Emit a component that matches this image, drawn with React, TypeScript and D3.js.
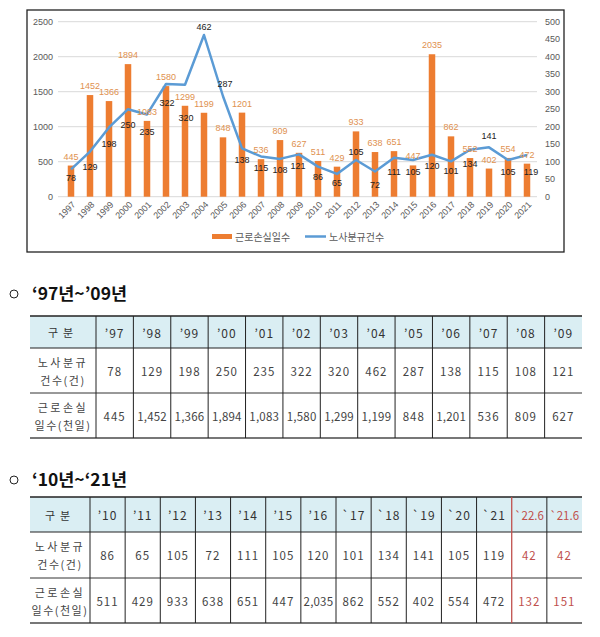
import React from 'react';
import * as d3 from 'd3';

// ---- data ----
const years = ['1997','1998','1999','2000','2001','2002','2003','2004','2005','2006','2007','2008','2009','2010','2011','2012','2013','2014','2015','2016','2017','2018','2019','2020','2021'];
const lostDays = [445,1452,1366,1894,1083,1580,1299,1199,848,1201,536,809,627,511,429,933,638,651,447,2035,862,552,402,554,472];
const disputes = [78,129,198,250,235,322,320,462,287,138,115,108,121,86,65,105,72,111,105,120,101,134,141,105,119];
const leftTicks = [0,500,1000,1500,2000,2500];
const rightTicks = [0,50,100,150,200,250,300,350,400,450,500];
const seriesNames = ['근로손실일수','노사분규건수'];

const head1 = ['’97','’98','’99','’00','’01','’02','’03','’04','’05','’06','’07','’08','’09'];
const head2 = ['’10','’11','’12','’13','’14','’15','’16','`17','`18','`19','`20','`21','`22.6','`21.6'];
const extraDisputes = [42, 42];
const extraLostDays = [132, 151];
const rowLabels = [['노사분규','건수(건)'],['근로손실','일수(천일)']];
const cornerLabel = '구분';
const title1 = '‘97년~’09년';
const title2 = '‘10년~‘21년';

// ---- layout (label placement, not data) ----
const lineLabelDy = [9,15,17,16,18,19,33,-8,-12,12,12,11,12,10,9,-8,13,14,12,11,10,14,-11,12,17];
const lineLabelDx = [0,0,0,0,0,1,1,0,2,0,0,0,-1,0,0,0,0,0,0,0,0,0,0,0,4];

const ORANGE = '#ED7D31';
const BLUE = '#5B9BD5';
const RED = '#C0504D';
const FONT = '"Noto Sans CJK KR", "Noto Sans", sans-serif';
const NUMFONT = '"Liberation Sans", Arial, sans-serif';
const fmt = d3.format(',');

type TableProps = {
  rowsY: number[];
  left: number;
  firstRight: number;
  right: number;
  headers: string[];
  values: number[][];
  redFrom?: number;
};

function Table({ rowsY, left, firstRight, right, headers, values, redFrom }: TableProps) {
  const band = d3.scaleBand<string>().domain(headers).range([firstRight, right]);
  const bounds = [firstRight, ...headers.slice(1).map(h => band(h)!)];
  const top = rowsY[0];
  const bottom = rowsY[rowsY.length - 1];
  const firstCx = (left + firstRight) / 2;
  const isRed = (i: number) => redFrom !== undefined && i >= redFrom;
  const textProps = { fontFamily: FONT, fontSize: 11.5, textAnchor: 'middle' as const, dominantBaseline: 'central' as const };
  return (
    <g>
      <rect x={left} y={top} width={right - left} height={rowsY[1] - top} fill="#DAEEF3" />
      <line x1={left} x2={right} y1={top} y2={top} stroke="#222" strokeWidth={1.5} />
      <line x1={left} x2={right} y1={rowsY[1]} y2={rowsY[1]} stroke="#222" strokeWidth={1} />
      <line x1={left} x2={right} y1={rowsY[2]} y2={rowsY[2]} stroke="#333" strokeWidth={1} />
      <line x1={left} x2={right} y1={bottom} y2={bottom} stroke="#777" strokeWidth={2} />
      {bounds.map((b, i) => (
        <line key={i} x1={b} x2={b} y1={top} y2={bottom}
          stroke={redFrom !== undefined && i === redFrom ? RED : '#222'} strokeWidth={redFrom !== undefined && i === redFrom ? 1.3 : 1} />
      ))}
      <text x={firstCx} y={(top + rowsY[1]) / 2} {...textProps} fontSize={11} letterSpacing={5} fill="#333">{cornerLabel}</text>
      {headers.map((h, i) => (
        <text key={h} x={band(h)! + band.bandwidth() / 2} y={(top + rowsY[1]) / 2} {...textProps} fontSize={h.length > 3 ? 11.5 : 12}
          letterSpacing={h.length > 3 ? 0 : 1} fill={isRed(i) ? RED : '#333'}>{h}</text>
      ))}
      {rowLabels.map((lbl, r) => {
        const cy = (rowsY[r + 1] + rowsY[r + 2]) / 2;
        return (
          <g key={r}>
            <text x={firstCx} y={cy - 9} {...textProps} fontSize={11} letterSpacing={2.5} fill="#444">{lbl[0]}</text>
            <text x={firstCx} y={cy + 9} {...textProps} fontSize={11} letterSpacing={1.5} fill="#444">{lbl[1]}</text>
            {values[r].map((v, i) => (
              <text key={i} x={band(headers[i])! + band.bandwidth() / 2} y={cy} {...textProps} fontSize={11.5}
                letterSpacing={v >= 1000 ? 0.2 : 1} fill={isRed(i) ? RED : '#444'}>{fmt(v)}</text>
            ))}
          </g>
        );
      })}
    </g>
  );
}

export default function App() {
  const x = d3.scaleBand<string>().domain(years).range([61.5, 536.5]);
  const yL = d3.scaleLinear().domain([0, 2500]).range([196.7, 21.7]);
  const yR = d3.scaleLinear().domain([0, 500]).range([196.7, 21.7]);
  const cx = (yr: string) => x(yr)! + x.bandwidth() / 2;
  const barW = 6.5;
  const linePath = d3.line<number>().x((_, i) => cx(years[i])).y(d => yR(d))(disputes) || '';

  const n1 = head1.length;
  const t1Values = [disputes.slice(0, n1), lostDays.slice(0, n1)];
  const t2Values = [[...disputes.slice(n1), ...extraDisputes], [...lostDays.slice(n1), ...extraLostDays]];

  return (
    <svg width={600} height={637} style={{ position: 'absolute', left: 0, top: 0, background: '#fff' }}>
      <rect x={0} y={0} width={600} height={637} fill="#fff" />
      {/* chart frame */}
      <rect x={27} y={10} width={537} height={242} fill="#fff" stroke="#222" strokeWidth={1.3} />
      {/* grid */}
      {leftTicks.map(t => (
        <line key={t} x1={58} x2={537} y1={yL(t)} y2={yL(t)} stroke="#D9D9D9" strokeWidth={1} />
      ))}
      {leftTicks.map(t => (
        <text key={t} x={53} y={yL(t)} textAnchor="end" dominantBaseline="central" fontFamily={NUMFONT} fontSize={9} fill="#595959">{t}</text>
      ))}
      {rightTicks.map(t => (
        <text key={t} x={545} y={yR(t)} textAnchor="start" dominantBaseline="central" fontFamily={NUMFONT} fontSize={9} fill="#595959">{t}</text>
      ))}
      {/* bars */}
      {years.map((yr, i) => (
        <rect key={yr} x={cx(yr) - barW / 2} y={yL(lostDays[i])} width={barW} height={yL(0) - yL(lostDays[i])} fill={ORANGE} />
      ))}
      {/* line */}
      <path d={linePath} fill="none" stroke={BLUE} strokeWidth={2.5} strokeLinejoin="round" />
      {/* bar labels */}
      {years.map((yr, i) => (
        <text key={yr} x={cx(yr)} y={yL(lostDays[i]) - 9} textAnchor="middle" dominantBaseline="central"
          fontFamily={NUMFONT} fontSize={9} fill="#E0914F">{lostDays[i]}</text>
      ))}
      {/* line labels */}
      {years.map((yr, i) => (
        <text key={yr} x={cx(yr) + lineLabelDx[i]} y={yR(disputes[i]) + lineLabelDy[i]} textAnchor="middle" dominantBaseline="central"
          fontFamily={NUMFONT} fontSize={9} fill="#222">{disputes[i]}</text>
      ))}
      {/* x labels */}
      {years.map(yr => (
        <text key={yr} transform={`translate(${cx(yr) + 3},${203}) rotate(-45)`} textAnchor="end" dominantBaseline="central"
          fontFamily={NUMFONT} fontSize={9} fill="#595959">{yr}</text>
      ))}
      {/* legend */}
      <rect x={212} y={234} width={20} height={5} fill={ORANGE} />
      <text x={235} y={236.5} dominantBaseline="central" fontFamily={FONT} fontSize={10} fill="#595959">{seriesNames[0]}</text>
      <line x1={305} x2={326} y1={236.5} y2={236.5} stroke={BLUE} strokeWidth={2.5} />
      <text x={329} y={236.5} dominantBaseline="central" fontFamily={FONT} fontSize={10} fill="#595959">{seriesNames[1]}</text>

      {/* section 1 */}
      <circle cx={14} cy={294} r={4} fill="none" stroke="#222" strokeWidth={1} />
      <text x={32} y={300} fontFamily={FONT} fontWeight="bold" fontSize={17} fill="#111" textLength={95} lengthAdjust="spacingAndGlyphs">{title1}</text>
      <Table rowsY={[316, 348, 393, 438]} left={30} firstRight={96} right={582} headers={head1} values={t1Values} />

      {/* section 2 */}
      <circle cx={14} cy={480} r={4} fill="none" stroke="#222" strokeWidth={1} />
      <text x={32} y={486} fontFamily={FONT} fontWeight="bold" fontSize={17} fill="#111" textLength={95} lengthAdjust="spacingAndGlyphs">{title2}</text>
      <Table rowsY={[497, 532, 578, 623]} left={30} firstRight={90} right={582} headers={head2} values={t2Values} redFrom={12} />
    </svg>
  );
}
